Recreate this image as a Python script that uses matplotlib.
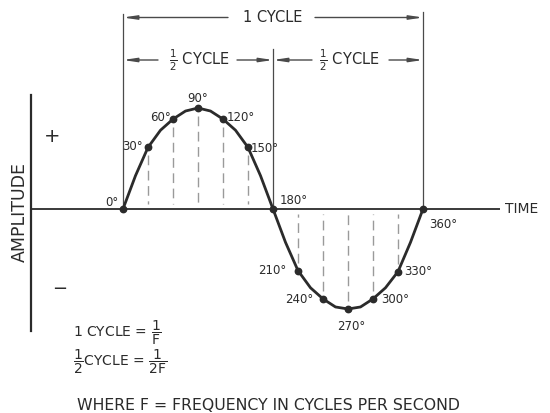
import matplotlib
matplotlib.use("Agg")
import matplotlib.pyplot as plt

# ---- data ----
curve_deg = [0, 15, 30, 45, 60, 75, 90, 105, 120, 135, 150, 165, 180,
             195, 210, 225, 240, 255, 270, 285, 300, 315, 330, 345, 360]
curve_amp = [0.0, 0.33, 0.61, 0.78, 0.89, 0.97, 1.0, 0.97, 0.89, 0.78, 0.61, 0.33, 0.0,
             -0.33, -0.61, -0.78, -0.89, -0.97, -0.99, -0.97, -0.89, -0.78, -0.62, -0.33, 0.0]

marked_deg = [0, 30, 60, 90, 120, 150, 180, 210, 240, 270, 300, 330, 360]
marked_amp = [0.0, 0.61, 0.89, 1.0, 0.89, 0.61, 0.0, -0.61, -0.89, -0.99, -0.89, -0.62, 0.0]
marked_labels = ["0°", "30°", "60°", "90°", "120°", "150°", "180°",
                 "210°", "240°", "270°", "300°", "330°", "360°"]
dashed_deg = [30, 60, 90, 120, 150, 210, 240, 270, 300, 330]

cycle_label = "1 CYCLE"
half_label = r"$\frac{1}{2}$ CYCLE"
axis_x_label = "TIME"
axis_y_label = "AMPLITUDE"
formula_1 = r"1 CYCLE = $\dfrac{1}{\mathrm{F}}$"
formula_2 = r"$\dfrac{1}{2}$CYCLE = $\dfrac{1}{\mathrm{2F}}$"
footnote = "WHERE F = FREQUENCY IN CYCLES PER SECOND"

# ---- layout helpers (pixel -> data) ----
X0, SX = 123.0, 150.0 / 180.0
Y0, SY = 209.0, 101.0
def dx(px):
    return (px - X0) / SX
def dy(py):
    return (Y0 - py) / SY

INK = "#2b2b2b"
THIN = "#4a4a4a"
DASH = "#9a9a9a"

fig = plt.figure(figsize=(5.5, 4.13), dpi=100)
ax = fig.add_axes([0, 0, 1, 1])
ax.set_xlim(dx(0), dx(550))
ax.set_ylim(dy(413), dy(0))
ax.axis("off")

# axes lines
ax.plot([dx(31), dx(500)], [0, 0], color=INK, lw=1.3, solid_capstyle="butt")
ax.plot([dx(31), dx(31)], [dy(95), dy(331)], color=INK, lw=1.6)

# bracket lines
ax.plot([0, 0], [0.02, dy(14)], color=THIN, lw=0.9)
ax.plot([180, 180], [0.0, dy(49)], color=THIN, lw=0.9)
ax.plot([360, 360], [0.0, dy(12)], color=THIN, lw=0.9)

# dashed ordinates
amp_of = dict(zip(marked_deg, marked_amp))
for d in dashed_deg:
    a = amp_of[d]
    s = 1 if a > 0 else -1
    ax.plot([d, d], [a - s * 0.08, s * 0.05], color=DASH, lw=1.0,
            dashes=(7, 4))

# sine curve and dots
ax.plot(curve_deg, curve_amp, color=INK, lw=2.0, solid_joinstyle="round")
ax.plot(marked_deg, marked_amp, "o", color=INK, ms=4.6)

# degree labels (offsets in pixels)
offsets = {
    "0°": (-5, 7, "right"), "30°": (-5, 1, "right"), "60°": (-2, 2, "right"),
    "90°": (0, 10, "center"), "120°": (4, 2, "left"), "150°": (3, -1, "left"),
    "180°": (7, 8, "left"), "210°": (-12, 0, "right"), "240°": (-10, -1, "right"),
    "270°": (3, -18, "center"), "300°": (8, -1, "left"), "330°": (6, 0, "left"),
    "360°": (6, -15, "left"),
}
for d, a, lab in zip(marked_deg, marked_amp, marked_labels):
    ox, oy, ha = offsets[lab]
    ax.annotate(lab, (d, a), xytext=(ox, oy), textcoords="offset pixels",
                ha=ha, va="center", fontsize=8.5, color=INK)

# dimension arrows
arrow = dict(arrowstyle="-|>,head_length=0.8,head_width=0.12", color=THIN,
             lw=1.0, shrinkA=0, shrinkB=0)
y1 = dy(17.5)
ax.annotate("", xy=(0, y1), xytext=(dx(228), y1), arrowprops=arrow)
ax.annotate("", xy=(360, y1), xytext=(dx(315), y1), arrowprops=arrow)
ax.text(180, y1, cycle_label, ha="center", va="center", fontsize=10.5, color=INK)

y2 = dy(60)
ax.annotate("", xy=(0, y2), xytext=(dx(158), y2), arrowprops=arrow)
ax.annotate("", xy=(180, y2), xytext=(dx(237), y2), arrowprops=arrow)
ax.annotate("", xy=(180, y2), xytext=(dx(312), y2), arrowprops=arrow)
ax.annotate("", xy=(360, y2), xytext=(dx(389), y2), arrowprops=arrow)
ax.text(92, y2, half_label, ha="center", va="center", fontsize=10.5, color=INK)
ax.text(272, y2, half_label, ha="center", va="center", fontsize=10.5, color=INK)

# axis texts
ax.text(dx(505), 0, axis_x_label, ha="left", va="center", fontsize=10, color=INK)
ax.text(dx(19.5), dy(212), axis_y_label, ha="center", va="center",
        rotation=90, fontsize=12.5, color=INK)
ax.text(dx(52), dy(136), "+", ha="center", va="center", fontsize=14, color=INK)
ax.text(dx(60), dy(289), "−", ha="center", va="center", fontsize=13, color=INK)

# formulas
ax.text(dx(73), dy(333), formula_1, ha="left", va="center", fontsize=10, color=INK)
ax.text(dx(73), dy(362), formula_2, ha="left", va="center", fontsize=10, color=INK)
ax.text(dx(77), dy(405), footnote, ha="left", va="center", fontsize=11.3, color=INK)

fig.savefig("out.png", dpi=100)
